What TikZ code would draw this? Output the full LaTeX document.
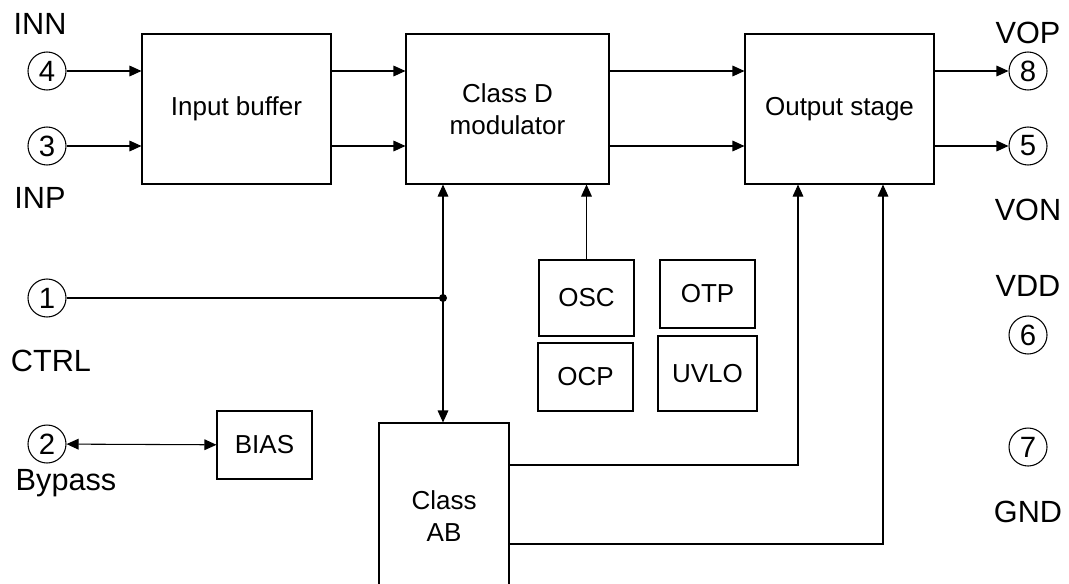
\documentclass[tikz,border=0pt]{standalone}
\usepackage{fontspec}
\setmainfont{Liberation Sans}
\usetikzlibrary{arrows.meta}
\begin{document}
\begin{tikzpicture}[x=0.75pt,y=-0.75pt,
  line width=0.8pt,
  box/.style={draw, rectangle, inner sep=0pt, align=center, font=\fontsize{19.5}{24}\selectfont},
  pin/.style={draw, circle, minimum size=28.5pt, inner sep=0pt, font=\fontsize{22}{24}\selectfont},
  lbl/.style={inner sep=0pt, font=\fontsize{23}{26}\selectfont},
  arr/.style={-{Triangle[length=9pt,width=8pt]}},
  arrs/.style={{Triangle[length=9pt,width=8pt]}-{Triangle[length=9pt,width=8pt]}}]
\useasboundingbox (0,0) rectangle (1069,583);
% main blocks
\node[box, minimum width=141.75pt, minimum height=112.5pt] (ib) at (236.5,109) {Input buffer};
\node[box, minimum width=152.25pt, minimum height=112.5pt] (cd) at (507.5,109) {Class D\\modulator};
\node[box, minimum width=141.75pt, minimum height=112.5pt] (os) at (839.5,109) {Output stage};
\node[box, minimum width=97.5pt, minimum height=140.25pt] (ab) at (444,516.5) {Class\\AB};
\node[box, minimum width=71.25pt, minimum height=51pt] (bias) at (264.5,445) {BIAS};
\node[box, minimum width=71.25pt, minimum height=57pt] (osc) at (586.5,298) {OSC};
\node[box, minimum width=71.25pt, minimum height=51pt] (otp) at (707.5,294) {\raisebox{1.5pt}{OTP}};
\node[box, minimum width=71.25pt, minimum height=51pt] (ocp) at (585.5,377) {OCP};
\node[box, minimum width=74.25pt, minimum height=56.25pt] (uvlo) at (707.5,373.5) {\raisebox{-3pt}{UVLO}};
% pins
\node[pin] (p4) at (47,71) {4};
\node[pin] (p3) at (47,146) {3};
\node[pin] (p1) at (47,298) {1};
\node[pin] (p2) at (47,444) {2};
\node[pin] (p8) at (1028,71) {8};
\node[pin] (p5) at (1028,146) {5};
\node[pin] (p6) at (1028,335) {6};
\node[pin] (p7) at (1028,447) {7};
% labels
\node[lbl] (linn) at (40,24) {INN};
\node[lbl] (linp) at (40,198) {INP};
\node[lbl] (lctrl) at (51,361) {CTRL};
\node[lbl] (lbyp) at (66,483) {Bypass};
\node[lbl] (lvop) at (1028,33) {VOP};
\node[lbl] (lvon) at (1028,210) {VON};
\node[lbl] (lvdd) at (1028,286) {VDD};
\node[lbl] (lgnd) at (1028,512) {GND};
% coordinates
\coordinate (j) at (443,298);
\coordinate (c1) at (798,465);
\coordinate (c2) at (883,544);
% connectors
\draw[arr] (p4) -- (p4 -| ib.west);
\draw[arr] (p3) -- (p3 -| ib.west);
\draw[arr] (ib.east |- p4) -- (cd.west |- p4);
\draw[arr] (ib.east |- p3) -- (cd.west |- p3);
\draw[arr] (cd.east |- p4) -- (os.west |- p4);
\draw[arr] (cd.east |- p3) -- (os.west |- p3);
\draw[arr] (os.east |- p8) -- (p8);
\draw[arr] (os.east |- p5) -- (p5);
\draw (p1) -- (j);
\fill (j) circle (3pt);
\draw[arrs] (cd.south -| j) -- (ab.north -| j);
\draw[arr] (osc.north) -- (osc.north |- cd.south);
\draw[arr] (ab.east |- c1) -| (os.south -| c1);
\draw[arr] (ab.east |- c2) -| (os.south -| c2);
\draw[arrs] (p2) -- (bias);
\end{tikzpicture}
\end{document}
